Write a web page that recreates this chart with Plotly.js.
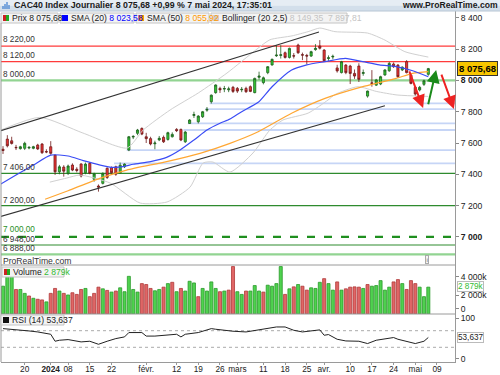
<!DOCTYPE html>
<html><head><meta charset="utf-8">
<script src="https://cdn.plot.ly/plotly-3.0.1.min.js"></script>
<style>html,body{margin:0;padding:0;background:#fff;}#chart{width:500px;height:375px;}</style>
</head><body><div id="chart"></div>
<script>
// ---------- DATA ----------
const dates = ["2023-12-13","2023-12-14","2023-12-15","2023-12-18","2023-12-19","2023-12-20","2023-12-21","2023-12-22","2023-12-27","2023-12-28","2023-12-29",
"2024-01-02","2024-01-03","2024-01-04","2024-01-05","2024-01-08","2024-01-09","2024-01-10","2024-01-11","2024-01-12","2024-01-15","2024-01-16","2024-01-17","2024-01-18","2024-01-19","2024-01-22","2024-01-23","2024-01-24","2024-01-25","2024-01-26","2024-01-29","2024-01-30","2024-01-31",
"2024-02-01","2024-02-02","2024-02-05","2024-02-06","2024-02-07","2024-02-08","2024-02-09","2024-02-12","2024-02-13","2024-02-14","2024-02-15","2024-02-16","2024-02-19","2024-02-20","2024-02-21","2024-02-22","2024-02-23","2024-02-26","2024-02-27","2024-02-28","2024-02-29",
"2024-03-01","2024-03-04","2024-03-05","2024-03-06","2024-03-07","2024-03-08","2024-03-11","2024-03-12","2024-03-13","2024-03-14","2024-03-15","2024-03-18","2024-03-19","2024-03-20","2024-03-21","2024-03-22","2024-03-25","2024-03-26","2024-03-27","2024-03-28",
"2024-04-02","2024-04-03","2024-04-04","2024-04-05","2024-04-08","2024-04-09","2024-04-10","2024-04-11","2024-04-12","2024-04-15","2024-04-16","2024-04-17","2024-04-18","2024-04-19","2024-04-22","2024-04-23","2024-04-24","2024-04-25","2024-04-26","2024-04-29","2024-04-30",
"2024-05-02","2024-05-03","2024-05-06","2024-05-07"];

const open  = [7560,7625,7614,7572,7564,7566,7568,7566,7587,7593,7545,7576,7523,7416,7446,7406,7459,7432,7466,7410,7470,7368,7325,7342,7438,7442,7448,7410,7448,7555,7638,7662,7693,7640,7628,7595,7620,7636,7623,7640,7687,7687,7608,7725,7776,7736,7768,7810,7864,7922,7949,7945,7940,7956,7949,7940,7949,7960,7922,8020,7986,8050,8099,8158,8160,8177,8147,8158,8226,8165,8160,8156,8197,8220,8194,8140,8150,8080,8050,8098,8092,8045,8092,8045,7900,7985,7970,7977,8035,8062,8105,8098,8067,8120,8034,7956,7939,7975,8039];
const high  = [7580,7650,7640,7588,7582,7608,7580,7582,7595,7600,7560,7612,7525,7460,7458,7462,7470,7445,7470,7475,7478,7410,7335,7412,7445,7450,7455,7475,7470,7645,7650,7690,7700,7665,7640,7615,7645,7648,7672,7668,7695,7692,7677,7752,7800,7778,7805,7830,7910,7975,7960,7965,7960,7965,7958,7958,7960,7968,8018,8056,8025,8092,8140,8226,8225,8185,8210,8175,8235,8178,8170,8190,8232,8258,8200,8160,8165,8100,8125,8105,8100,8070,8110,8070,7935,8066,8010,8030,8072,8118,8115,8105,8090,8130,8040,7960,7965,8005,8080];
const low   = [7530,7572,7590,7555,7558,7555,7560,7560,7555,7530,7535,7525,7396,7400,7385,7395,7420,7412,7380,7400,7400,7353,7289,7335,7370,7400,7390,7405,7440,7548,7625,7650,7650,7600,7585,7560,7612,7600,7615,7635,7670,7612,7600,7723,7760,7725,7760,7800,7852,7915,7920,7925,7925,7920,7920,7925,7920,7925,7918,8005,7975,8040,8095,8150,8140,8140,8140,8140,8170,8130,8103,8150,8190,8198,8120,8125,8135,8050,8045,8040,7977,8010,7990,8030,7890,7960,7965,7970,8030,8055,8080,8015,8060,8045,7975,7900,7930,7965,8030];
const close = [7552,7582,7597,7570,7576,7598,7572,7576,7562,7538,7543,7534,7416,7448,7420,7453,7427,7425,7389,7465,7406,7402,7318,7406,7380,7410,7400,7458,7465,7640,7642,7683,7657,7628,7594,7600,7630,7608,7666,7655,7679,7619,7670,7747,7782,7772,7800,7815,7906,7971,7940,7948,7946,7930,7932,7943,7928,7930,8013,8028,8017,8088,8135,8162,8164,8147,8205,8156,8177,8162,8156,8184,8205,8206,8126,8145,8154,8061,8120,8050,8045,8028,8007,8050,7932,7981,8003,8024,8067,8109,8088,8024,8085,8050,7981,7913,7956,7998,8075.68];
const volumeK = [2984,4500,4600,2630,2630,2210,1930,1685,1580,1510,1300,2210,2740,2460,2210,2040,2280,2100,2630,2740,1860,2210,2880,2700,2530,2350,2460,2810,2390,4040,2630,2350,3260,3160,2740,2490,2630,2880,3260,3400,2390,2740,2460,3510,3330,1860,2740,2460,3440,2740,2390,2460,2560,5090,2390,2100,2460,2460,3050,2460,2350,3090,2980,3260,5090,2100,2700,2910,3160,2980,2560,2810,2740,3400,3790,3260,2560,3440,2560,2700,2880,2910,2880,2740,3160,2980,3050,3580,2560,2880,3440,3690,3260,2630,3580,3260,2880,1860,2879];

// indicator lines (bar index, value)
const sma20X = [-0.5,3,7,11,15,18.5,22.4,25.4,27.7,30,34,37.7,40.8,44,47,50,52.3,55,58.8,62,66.5,70,74.2,78.9,82.9,86.7,90.6,94.4,98];
const sma20Y = [7338,7395,7459,7523,7517,7487,7459,7444,7449,7464,7481,7508,7555,7619,7683,7726,7753,7800,7860,7960,8067,8100,8120,8141,8120,8099,8088,8062,8023.58];
const sma50X = [9.7,15,22.3,28.5,37.7,45.4,52.3,58.8,66.5,74.2,82.9,86.7,90.6,94.4,98];
const sma50Y = [7240,7295,7374,7427,7481,7534,7598,7672,7790,7885,7960,7986,8013,8045,8055.92];
const bbUpX = [-0.5,8.5,18.4,28.6,32.3,38.5,45,51.6,58.5,61.5,66.6,70.3,73,76.5,84,88,92.6,98];
const bbUpY = [7683,7764,7664,7568,7683,7811,7920,8047,8200,8260,8285,8312,8335,8312,8303,8258,8184,8149.35];
const bbLoX = [10.8,14.7,17.7,24.7,31.6,37.8,43.1,46.1,48.4,52.3,57.6,61.5,64.5,70.3,74.9,76.5,81.8,86,90.8,98];
const bbLoY = [7350,7376,7395,7344,7216,7223,7318,7472,7478,7414,7536,7683,7747,7791,7875,7910,7960,7930,7907,7897.81];
const rsiX = [0,2,6,8,11,12,13,15,18,20,22,24,26,28,29,32,33,35,38,40,41,42,45,48,49,53,56,60,63,65,67,69,73,74,75,77,79,82,84,86,90,91,95,97,98];
const rsiY = [75,73.5,69.4,67,61.4,44.6,47,48.6,43,44.6,37.3,44.6,51,55,65.5,65.5,57,57,60.7,61.4,55,61.4,65.5,75,73.5,68.7,67,73.5,79,79,71,67,72,59,60.7,49.4,45.3,44.6,39,47,53.5,49.4,39,44.6,53.637];

// drawn levels and tools
const redLevels = [8220, 8120];
const redLabels = ["8 220,00", "8 120,00"];
const lightGreenLevels = [8000, 6888];
const lightGreenLabels = ["8 000,00", "6 888,00"];
const greenLevels = [7406, 7200, 6948];
const greenLabels = ["7 406,00", "7 200,00", "6 948,00"];
const dashedLevel = 7000;
const dashedLabel = "7 000,00";
const gapLevels = [7853, 7817, 7726, 7683, 7555, 7470];
const gapStart  = [47.6, 46.6, 42.6, 41.6, 28.5, 25.6];
const trendX0 = [-0.7, -0.7], trendY0 = [7677, 7129];
const trendX1 = [72.8, 88],  trendY1 = [8310, 7838];
const arrowTailX = [93.5, 97.9, 100.9], arrowTailY = [8067, 7838, 8047];
const arrowHeadX = [96.8, 99.8, 103.9], arrowHeadY = [7824, 8067, 7818];
const arrowColors = ["#ee2222", "#1a8a1a", "#ee2222"];

const priceTicks = [7000,7200,7400,7600,7800,8000,8200,8400];
const priceTickText = ["<b>7 000</b>","7 200","7 400","7 600","7 800","<b>8 000</b>","8 200","8 400"];
const volTicks = [560, 2000, 4000];
const volTickText = ["0", "2 000k", "4 000k"];
const rsiTicks = [3, 100];
const rsiTickText = ["0", "100"];
const dateTickIdx = [5,11,15,20,25,33,40,45,50,54,60,65,70,74,80,85,90,95,100];
const dateTickText = ["20","<b>2024</b>","08","15","22","févr.","12","19","26","mars","11","18","25","avr.","10","17","24","mai","09"];

const lastPrice = "8 075,68", lastVol = "2 879k", lastRsi = "53,637";

// ---------- LAYOUT HELPERS ----------
const FONT = "Liberation Sans, Arial, sans-serif";
const PL = 1, PR = 455, PT = 11, PB = 362;
const px = v => (v - PL) / (PR - PL);
const py = v => (PB - v) / (PB - PT);
const idx = dates.map((d, i) => i);

const volColors = close.map((c, i) => (i === 0 || c >= close[i-1]) ? "#4fd24f" : "#e06666");
const volLines  = close.map((c, i) => (i === 0 || c >= close[i-1]) ? "#2a9a2a" : "#b03a3a");

const traces = [
 {type:"scatter", mode:"lines", x:bbUpX, y:bbUpY, line:{color:"#d0d0d0", width:1, shape:"spline", smoothing:0.6}, hoverinfo:"skip", xaxis:"x", yaxis:"y"},
 {type:"scatter", mode:"lines", x:bbLoX, y:bbLoY, line:{color:"#d0d0d0", width:1, shape:"spline", smoothing:0.6}, hoverinfo:"skip", xaxis:"x", yaxis:"y"},
 {type:"scatter", mode:"lines", x:sma50X, y:sma50Y, line:{color:"#ffa733", width:1.2, shape:"spline", smoothing:0.6}, hoverinfo:"skip", xaxis:"x", yaxis:"y"},
 {type:"scatter", mode:"lines", x:sma20X, y:sma20Y, line:{color:"#3a4cf5", width:1.2, shape:"spline", smoothing:0.6}, hoverinfo:"skip", xaxis:"x", yaxis:"y"},
 {type:"candlestick", x:idx, open:open, high:high, low:low, close:close, xaxis:"x", yaxis:"y", whiskerwidth:0,
  increasing:{line:{color:"#1e5e1e", width:0.8}, fillcolor:"#33cc33"},
  decreasing:{line:{color:"#6e1b1b", width:0.8}, fillcolor:"#ee3333"}, hoverinfo:"skip"},
 {type:"bar", x:idx, y:volumeK, xaxis:"x", yaxis:"y2", width:0.7,
  marker:{color:volColors, line:{color:volLines, width:0.8}}, hoverinfo:"skip"},
 {type:"scatter", mode:"lines", x:rsiX, y:rsiY, xaxis:"x", yaxis:"y3", line:{color:"#222", width:1}, hoverinfo:"skip"}
];

const shapes = [];
const annotations = [];
// header bar (two-tone gradient)
shapes.push({type:"rect", xref:"paper", yref:"paper", x0:px(0), x1:px(500), y0:py(0), y1:py(5.5), line:{width:0}, fillcolor:"#e6edf4", layer:"above"});
shapes.push({type:"rect", xref:"paper", yref:"paper", x0:px(0), x1:px(500), y0:py(5.5), y1:py(11), line:{width:0}, fillcolor:"#d3dfeb", layer:"above"});
shapes.push({type:"line", xref:"paper", yref:"paper", x0:px(0), x1:px(500), y0:py(11), y1:py(11), line:{color:"#b8c6d4", width:1}});
[[3,6],[5,4],[7,2],[9,5]].forEach(([x,t]) => shapes.push({type:"line", xref:"paper", yref:"paper", x0:px(x), x1:px(x), y0:py(t), y1:py(9), line:{color:"#3d7fd0", width:1.2}}));
annotations.push({xref:"paper", yref:"paper", x:px(13), y:py(5.5), xanchor:"left", yanchor:"middle", showarrow:false, borderpad:0,
  text:"<b>CAC40 Index Journalier 8 075,68 +0,99 % 7 mai 2024, 17:35:01</b>", font:{family:FONT, size:8.8, color:"#1a1a1a"}});
annotations.push({xref:"paper", yref:"paper", x:px(499), y:py(5.5), xanchor:"right", yanchor:"middle", showarrow:false, borderpad:0,
  text:"<b>www.ProRealTime.com</b>", font:{family:FONT, size:8.6, color:"#1a1a1a"}});

// legend boxes
const boxes = [[1,58],[60,134],[136,209],[211,347]];
boxes.forEach(([a,b]) => shapes.push({type:"rect", xref:"paper", yref:"paper", x0:px(a), x1:px(b), y0:py(13), y1:py(23), line:{color:"#c4c4c4", width:1}, fillcolor:"#f3f3f3"}));
shapes.push({type:"rect", xref:"paper", yref:"paper", x0:px(3), x1:px(6), y0:py(15), y1:py(21), line:{width:0}, fillcolor:"#cc2222"});
shapes.push({type:"rect", xref:"paper", yref:"paper", x0:px(6), x1:px(9), y0:py(15), y1:py(21), line:{width:0}, fillcolor:"#22aa22"});
shapes.push({type:"rect", xref:"paper", yref:"paper", x0:px(62), x1:px(68), y0:py(15), y1:py(21), line:{width:0}, fillcolor:"#0000ff"});
shapes.push({type:"rect", xref:"paper", yref:"paper", x0:px(138), x1:px(144), y0:py(15), y1:py(21), line:{width:0}, fillcolor:"#ff9900"});
shapes.push({type:"rect", xref:"paper", yref:"paper", x0:px(213), x1:px(219), y0:py(15), y1:py(21), line:{width:0}, fillcolor:"#cccccc"});
const legTexts = [
 [11, "Prix 8 075,68"],
 [70, 'SMA (20) <span style="color:#0000ff">8 023,58</span>'],
 [146, 'SMA (50) <span style="color:#ff9900">8 055,92</span>'],
 [221, 'Bollinger (20 2,5) <span style="color:#c4c4c4">8 149,35  7 897,81</span>']
];
legTexts.forEach(([x,t]) => annotations.push({xref:"paper", yref:"paper", x:px(x), y:py(18), xanchor:"left", yanchor:"middle", showarrow:false, borderpad:0, text:t, font:{family:FONT, size:8.6, color:"#222"}}));

// horizontal levels
function level(v, color, width, dash, label, labelColor, shift) {
  shapes.push({type:"line", xref:"paper", yref:"y", x0:0, x1:1, y0:v, y1:v, line:{color:color, width:width, dash:dash||"solid"}, layer:"below"});
  annotations.push({xref:"paper", yref:"y", x:px(2), y:v, xanchor:"left", yanchor:"bottom", yshift:(shift===undefined?1:shift), borderpad:0, showarrow:false, text:label, font:{family:FONT, size:8.2, color:labelColor||"#333"}});
}
gapLevels.forEach((v,i) => shapes.push({type:"line", xref:"x", yref:"y", x0:gapStart[i], x1:104.2, y0:v, y1:v, line:{color:"#c6d5f6", width:1.8}, layer:"below"}));
redLevels.forEach((v,i) => level(v, "#ff3b3b", 1.2, null, redLabels[i]));
lightGreenLevels.forEach((v,i) => level(v, "#92d492", 2.2, null, lightGreenLabels[i], null, 0));
greenLevels.forEach((v,i) => level(v, "#2e8b2e", 1.2, null, greenLabels[i], null, 0));
level(dashedLevel, "#1f8f1f", 2.4, "8px,9px", dashedLabel, "#1f8f1f", 2);

// trend lines
trendX0.forEach((x,i) => shapes.push({type:"line", xref:"x", yref:"y", x0:x, x1:trendX1[i], y0:trendY0[i], y1:trendY1[i], line:{color:"#333", width:1.1}}));
// arrows
arrowHeadX.forEach((x,i) => annotations.push({xref:"x", yref:"y", axref:"x", ayref:"y", x:x, y:arrowHeadY[i], ax:arrowTailX[i], ay:arrowTailY[i], text:"", showarrow:true, arrowhead:2, arrowsize:1.3, arrowwidth:2, arrowcolor:arrowColors[i]}));

// panel separators and borders
[265, 314].forEach(v => shapes.push({type:"line", xref:"paper", yref:"paper", x0:0, x1:1, y0:py(v), y1:py(v), line:{color:"#9a9a9a", width:1}}));
shapes.push({type:"line", xref:"paper", yref:"paper", x0:0, x1:0, y0:0, y1:py(23), line:{color:"#9a9a9a", width:1}});
// RSI guide lines
[70, 30].forEach(v => shapes.push({type:"line", xref:"paper", yref:"y3", x0:0, x1:1, y0:v, y1:v, line:{color:"#aaaaaa", width:1, dash:"3px,3px"}, layer:"below"}));

// watermark + info icon
annotations.push({xref:"paper", yref:"paper", x:px(2), y:py(261), xanchor:"left", yanchor:"middle", showarrow:false, borderpad:0, text:"ProRealTime.com", font:{family:FONT, size:8.6, color:"#333"}});
annotations.push({xref:"paper", yref:"paper", x:px(427), y:py(259.5), xanchor:"center", yanchor:"middle", showarrow:false, text:"i", font:{family:FONT, size:6, color:"#666"}, bordercolor:"#aaa", borderwidth:1, borderpad:0.5, bgcolor:"#f4f4f4"});

// volume / rsi legends
shapes.push({type:"rect", xref:"paper", yref:"paper", x0:px(2), x1:px(64), y0:py(267), y1:py(277), line:{color:"#c4c4c4", width:1}, fillcolor:"#f3f3f3"});
shapes.push({type:"rect", xref:"paper", yref:"paper", x0:px(4), x1:px(7), y0:py(269), y1:py(275), line:{width:0}, fillcolor:"#cc2222"});
shapes.push({type:"rect", xref:"paper", yref:"paper", x0:px(7), x1:px(10), y0:py(269), y1:py(275), line:{width:0}, fillcolor:"#22aa22"});
annotations.push({xref:"paper", yref:"paper", x:px(12), y:py(272), xanchor:"left", yanchor:"middle", showarrow:false, borderpad:0, text:'Volume <span style="color:#33bb33">2 879k</span>', font:{family:FONT, size:8.6, color:"#222"}});
shapes.push({type:"rect", xref:"paper", yref:"paper", x0:px(1), x1:px(64), y0:py(315), y1:py(325), line:{color:"#c4c4c4", width:1}, fillcolor:"#f3f3f3"});
shapes.push({type:"rect", xref:"paper", yref:"paper", x0:px(3), x1:px(9), y0:py(317), y1:py(323), line:{width:0}, fillcolor:"#111"});
annotations.push({xref:"paper", yref:"paper", x:px(11), y:py(320), xanchor:"left", yanchor:"middle", showarrow:false, borderpad:0, text:"RSI (14) 53,637", font:{family:FONT, size:8.6, color:"#222"}});

// right-side value tags
annotations.push({xref:"paper", yref:"y", x:px(457), y:close[close.length-1], xanchor:"left", yanchor:"middle", showarrow:false, text:"<b>"+lastPrice+"</b>", font:{family:FONT, size:9.5, color:"#000"}, bgcolor:"#f7c600", bordercolor:"#333", borderwidth:1, borderpad:1});
annotations.push({xref:"paper", yref:"paper", x:px(457), y:py(286.5), xanchor:"left", yanchor:"middle", showarrow:false, text:lastVol, font:{family:FONT, size:8.2, color:"#33bb33"}, bgcolor:"#fff", bordercolor:"#bbb", borderwidth:1, borderpad:0});
annotations.push({xref:"paper", yref:"y3", x:px(457), y:rsiY[rsiY.length-1], xanchor:"left", yanchor:"middle", showarrow:false, text:lastRsi, font:{family:FONT, size:8.2, color:"#222"}, bgcolor:"#fff", bordercolor:"#bbb", borderwidth:1, borderpad:0});

const axFont = {family:FONT, size:8.6, color:"#222"};
const layout = {
  width:500, height:375,
  margin:{l:PL, r:500-PR, t:PT, b:375-PB, pad:0},
  paper_bgcolor:"#fff", plot_bgcolor:"#fff", showlegend:false,
  xaxis:{anchor:"y3", range:[-0.46, 104.15], tickvals:dateTickIdx, ticktext:dateTickText, ticks:"outside", ticklen:2, tickcolor:"#999", ticklabelstandoff:-3,
         showline:true, linecolor:"#9a9a9a", showgrid:false, zeroline:false, tickfont:{family:FONT, size:8.3, color:"#222"}, rangeslider:{visible:false}, fixedrange:true},
  yaxis:{domain:[py(265), 1], range:[6820, 8444], side:"right", tickvals:priceTicks, ticktext:priceTickText, ticks:"outside", ticklen:3, tickcolor:"#888",
         showline:true, linecolor:"#9a9a9a", showgrid:false, zeroline:false, tickfont:axFont, anchor:"x"},
  yaxis2:{domain:[py(314), py(265)], range:[0, 5255], side:"right", tickvals:volTicks, ticktext:volTickText, ticks:"outside", ticklen:3, tickcolor:"#888",
         showline:true, linecolor:"#9a9a9a", showgrid:false, zeroline:false, tickfont:axFont, anchor:"x"},
  yaxis3:{domain:[0, py(314)], range:[-5.4, 110.2], side:"right", tickvals:rsiTicks, ticktext:rsiTickText, ticks:"outside", ticklen:3, tickcolor:"#888",
         showline:true, linecolor:"#9a9a9a", showgrid:false, zeroline:false, tickfont:axFont, anchor:"x"},
  shapes:shapes, annotations:annotations, bargap:0.3
};
Plotly.newPlot("chart", traces, layout, {displayModeBar:false, staticPlot:true});
</script></body></html>
